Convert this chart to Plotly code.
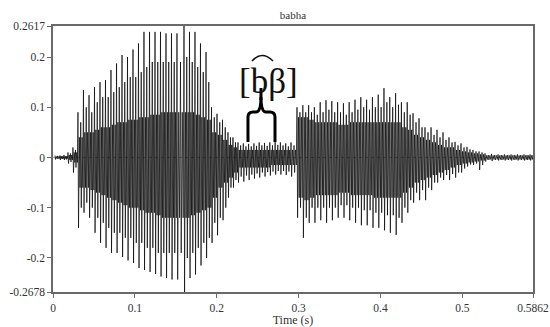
import plotly.graph_objects as go

# ---- data (glottal pulse times and envelope values) ----
pulse_t = [0.0024, 0.0085, 0.0134,
           0.0183, 0.0244,
           0.0305, 0.0372, 0.0440, 0.0507, 0.0574, 0.0641, 0.0708, 0.0776, 0.0843, 0.0910,
           0.0977, 0.1044, 0.1111, 0.1179, 0.1246, 0.1313, 0.1380, 0.1447, 0.1514, 0.1600,
           0.1667, 0.1734, 0.1801, 0.1869, 0.1936, 0.2003, 0.2070, 0.2137, 0.2198,
           0.2259, 0.2324, 0.2389, 0.2454, 0.2518, 0.2583, 0.2648, 0.2713, 0.2777, 0.2842, 0.2907,
           0.2980, 0.3051, 0.3122, 0.3192, 0.3263, 0.3334, 0.3405, 0.3476, 0.3547, 0.3617,
           0.3688, 0.3759, 0.3830, 0.3901, 0.3972, 0.4042, 0.4113, 0.4184, 0.4255, 0.4326,
           0.4397, 0.4470, 0.4543, 0.4617, 0.4690, 0.4763, 0.4836, 0.4910, 0.4983, 0.5056,
           0.5129, 0.5203,
           0.5276, 0.5355, 0.5435, 0.5514, 0.5594, 0.5673, 0.5752, 0.5826]

top_outer = [0.004, 0.004, 0.005,
             0.010, 0.020,
             0.090, 0.134, 0.124, 0.140, 0.150, 0.154, 0.174, 0.187, 0.204, 0.200,
             0.215, 0.227, 0.250, 0.250, 0.250, 0.250, 0.247, 0.247, 0.247, 0.2617,
             0.250, 0.250, 0.227, 0.210, 0.100, 0.087, 0.075, 0.050, 0.040,
             0.030, 0.028, 0.027, 0.028, 0.030, 0.029, 0.030, 0.032, 0.030, 0.028, 0.030,
             0.100, 0.104, 0.104, 0.100, 0.110, 0.114, 0.112, 0.110, 0.108, 0.110,
             0.115, 0.120, 0.115, 0.120, 0.125, 0.138, 0.120, 0.128, 0.110, 0.110,
             0.088, 0.078, 0.060, 0.060, 0.055, 0.050, 0.040, 0.031, 0.028, 0.021,
             0.015, 0.012,
             0.008, 0.007, 0.006, 0.006, 0.006, 0.006, 0.006, 0.006]

bot_outer = [-0.004, -0.005, -0.005,
             -0.012, -0.030,
             -0.140, -0.110, -0.120, -0.150, -0.170, -0.180, -0.190, -0.190, -0.198, -0.205,
             -0.210, -0.220, -0.224, -0.228, -0.232, -0.237, -0.240, -0.243, -0.243, -0.2678,
             -0.240, -0.233, -0.215, -0.200, -0.170, -0.155, -0.125, -0.080, -0.060,
             -0.050, -0.048, -0.045, -0.042, -0.040, -0.038, -0.036, -0.034, -0.034, -0.035, -0.038,
             -0.120, -0.160, -0.130, -0.130, -0.125, -0.130, -0.125, -0.120, -0.120, -0.125,
             -0.130, -0.135, -0.135, -0.140, -0.140, -0.145, -0.150, -0.154, -0.130, -0.110,
             -0.090, -0.085, -0.085, -0.065, -0.050, -0.045, -0.045, -0.040, -0.030, -0.018,
             -0.015, -0.025,
             -0.008, -0.007, -0.006, -0.006, -0.006, -0.006, -0.006, -0.006]

top_mid = [0.003, 0.003, 0.003,
           0.008, 0.015,
           0.07, 0.10, 0.09, 0.11, 0.12, 0.12, 0.13, 0.14, 0.15, 0.16,
           0.16, 0.17, 0.18, 0.19, 0.19, 0.19, 0.19, 0.19, 0.19, 0.20,
           0.19, 0.18, 0.17, 0.15, 0.08, 0.07, 0.06, 0.04, 0.03,
           0.024, 0.022, 0.022, 0.023, 0.024, 0.023, 0.024, 0.025, 0.024, 0.022, 0.024,
           0.09, 0.09, 0.09, 0.085, 0.09, 0.095, 0.09, 0.09, 0.085, 0.09,
           0.095, 0.10, 0.095, 0.10, 0.10, 0.11, 0.10, 0.105, 0.09, 0.085,
           0.07, 0.06, 0.05, 0.045, 0.04, 0.035, 0.03, 0.024, 0.02, 0.016,
           0.012, 0.01,
           0.005, 0.005, 0.005, 0.005, 0.005, 0.005, 0.005, 0.005]

bot_mid = [-0.003, -0.003, -0.004,
           -0.009, -0.020,
           -0.10, -0.09, -0.10, -0.12, -0.13, -0.14, -0.15, -0.15, -0.16, -0.16,
           -0.17, -0.17, -0.18, -0.18, -0.19, -0.19, -0.19, -0.19, -0.19, -0.20,
           -0.19, -0.18, -0.17, -0.16, -0.13, -0.12, -0.10, -0.06, -0.045,
           -0.038, -0.036, -0.034, -0.032, -0.030, -0.029, -0.028, -0.027, -0.027, -0.028, -0.030,
           -0.10, -0.12, -0.10, -0.10, -0.10, -0.10, -0.10, -0.095, -0.095, -0.10,
           -0.10, -0.105, -0.105, -0.11, -0.11, -0.115, -0.115, -0.12, -0.10, -0.085,
           -0.07, -0.065, -0.06, -0.05, -0.04, -0.035, -0.033, -0.03, -0.022, -0.014,
           -0.012, -0.015,
           -0.005, -0.005, -0.005, -0.005, -0.005, -0.005, -0.005, -0.005]

top_inner = [0.002, 0.002, 0.002,
             0.005, 0.010,
             0.04, 0.05, 0.05, 0.055, 0.06, 0.06, 0.065, 0.07, 0.07, 0.075,
             0.075, 0.08, 0.08, 0.085, 0.085, 0.09, 0.09, 0.09, 0.09, 0.09,
             0.09, 0.085, 0.08, 0.075, 0.05, 0.045, 0.035, 0.025, 0.02,
             0.015, 0.015, 0.015, 0.015, 0.015, 0.015, 0.015, 0.015, 0.015, 0.015, 0.015,
             0.08, 0.08, 0.075, 0.07, 0.07, 0.07, 0.07, 0.065, 0.065, 0.07,
             0.07, 0.07, 0.07, 0.07, 0.07, 0.07, 0.07, 0.07, 0.06, 0.055,
             0.045, 0.04, 0.035, 0.03, 0.025, 0.02, 0.02, 0.015, 0.012, 0.01,
             0.008, 0.006,
             0.004, 0.004, 0.004, 0.004, 0.004, 0.004, 0.004, 0.004]

bot_inner = [-0.002, -0.002, -0.002,
             -0.005, -0.010,
             -0.06, -0.06, -0.065, -0.07, -0.075, -0.08, -0.085, -0.09, -0.095, -0.10,
             -0.10, -0.105, -0.11, -0.11, -0.115, -0.12, -0.12, -0.12, -0.12, -0.12,
             -0.115, -0.11, -0.105, -0.10, -0.08, -0.06, -0.05, -0.04, -0.03,
             -0.020, -0.020, -0.020, -0.020, -0.020, -0.020, -0.015, -0.015, -0.015, -0.015, -0.015,
             -0.08, -0.085, -0.08, -0.075, -0.075, -0.075, -0.075, -0.07, -0.07, -0.075,
             -0.075, -0.075, -0.075, -0.08, -0.08, -0.08, -0.08, -0.08, -0.07, -0.06,
             -0.05, -0.045, -0.04, -0.035, -0.03, -0.025, -0.02, -0.015, -0.012, -0.01,
             -0.008, -0.006,
             -0.004, -0.004, -0.004, -0.004, -0.004, -0.004, -0.004, -0.004]

x_ticks = [0, 0.1, 0.2, 0.3, 0.4, 0.5, 0.5862]
x_tick_text = ["0", "0.1", "0.2", "0.3", "0.4", "0.5", "0.5862"]
y_ticks = [-0.2678, -0.2, -0.1, 0, 0.1, 0.2, 0.2617]
y_tick_text = ["-0.2678", "-0.2", "-0.1", "0", "0.1", "0.2", "0.2617"]
x_min, x_max = 0, 0.5862
y_min, y_max = -0.2678, 0.2617

# ---- build the drawn trace (sequence of extrema within each pulse) ----
phase = [0.0, 0.1, 0.25, 0.38, 0.5, 0.6, 0.75, 0.88]
xs, ys = [], []
for i, t0 in enumerate(pulse_t):
    if i + 1 < len(pulse_t):
        period = pulse_t[i + 1] - t0
    else:
        period = t0 - pulse_t[i - 1]
    vals = [top_outer[i], bot_outer[i], top_inner[i], bot_inner[i],
            top_mid[i], bot_mid[i], top_inner[i], bot_inner[i]]
    for f, v in zip(phase, vals):
        xs.append(t0 + f * period)
        ys.append(v)

FONT = "Liberation Serif"
AX = "#6a6a6a"

fig = go.Figure()
fig.add_trace(go.Scatter(x=[x_min, x_max], y=[0, 0], mode="lines",
                         line=dict(color="#999999", width=0.8, dash="dot"),
                         hoverinfo="skip", showlegend=False))
fig.add_trace(go.Scatter(x=xs, y=ys, mode="lines",
                         line=dict(color="#000000", width=0.7),
                         showlegend=False))

fig.update_xaxes(range=[x_min, x_max], tickvals=x_ticks, ticktext=x_tick_text,
                 automargin=False,
                 showgrid=False, zeroline=False, showline=True, linecolor=AX, linewidth=1.5,
                 mirror=True, ticks="outside", ticklen=4, tickcolor=AX, tickwidth=1,
                 tickfont=dict(family=FONT, size=11.5, color="#333"),
                 title=dict(text="Time (s)", font=dict(family=FONT, size=12, color="#333"),
                            standoff=2))
fig.update_yaxes(range=[y_min, y_max], tickvals=y_ticks, ticktext=y_tick_text,
                 automargin=False,
                 showgrid=False, zeroline=False, showline=True, linecolor=AX, linewidth=1.5,
                 mirror=True, ticks="outside", ticklen=4, tickcolor=AX, tickwidth=1,
                 tickfont=dict(family=FONT, size=11.5, color="#333"))

# annotation: phonetic label with tie bar and brace
fig.add_annotation(x=(268 - 53) / 480, y=(292 - 81) / 266, xref="paper", yref="paper",
                   text="[bβ]", showarrow=False,
                   font=dict(family=FONT, size=35, color="#111"),
                   xanchor="center", yanchor="middle")

def px(xp, yp):
    return (xp - 53) / 480, (292 - yp) / 266

def path_from(points_cmds):
    out = []
    for cmd, pts in points_cmds:
        coords = " ".join("%.4f,%.4f" % px(*p) for p in pts)
        out.append(cmd + " " + coords)
    return " ".join(out)

brace = path_from([
    ("M", [(248, 142)]), ("L", [(248, 117)]),
    ("Q", [(248, 112), (253, 112)]), ("L", [(256, 112)]),
    ("Q", [(261, 112), (261, 97)]),
    ("Q", [(261, 112), (266, 112)]), ("L", [(270, 112)]),
    ("Q", [(275, 112), (275, 117)]), ("L", [(275, 142)]),
])
fig.add_shape(type="path", path=brace, xref="paper", yref="paper",
              line=dict(color="#000", width=3))
stem = path_from([("M", [(261, 100)]), ("L", [(261, 88)])])
fig.add_shape(type="path", path=stem, xref="paper", yref="paper",
              line=dict(color="#000", width=3))
tie = path_from([("M", [(252, 61)]), ("Q", [(262, 50), (273, 61)])])
fig.add_shape(type="path", path=tie, xref="paper", yref="paper",
              line=dict(color="#111", width=1.5))

fig.update_layout(
    width=550, height=327,
    margin=dict(l=53, r=17, t=26, b=35),
    paper_bgcolor="white", plot_bgcolor="white",
    font=dict(family=FONT),
    title=dict(text="babha", x=(293) / 550, xanchor="center", y=1 - 15 / 327, yanchor="middle",
               font=dict(family=FONT, size=11, color="#333")),
)

fig.write_html("out.html", config={"displayModeBar": False},
               post_script="document.body.style.margin='0';document.body.style.padding='0';"
                           "document.body.style.overflow='hidden';")
